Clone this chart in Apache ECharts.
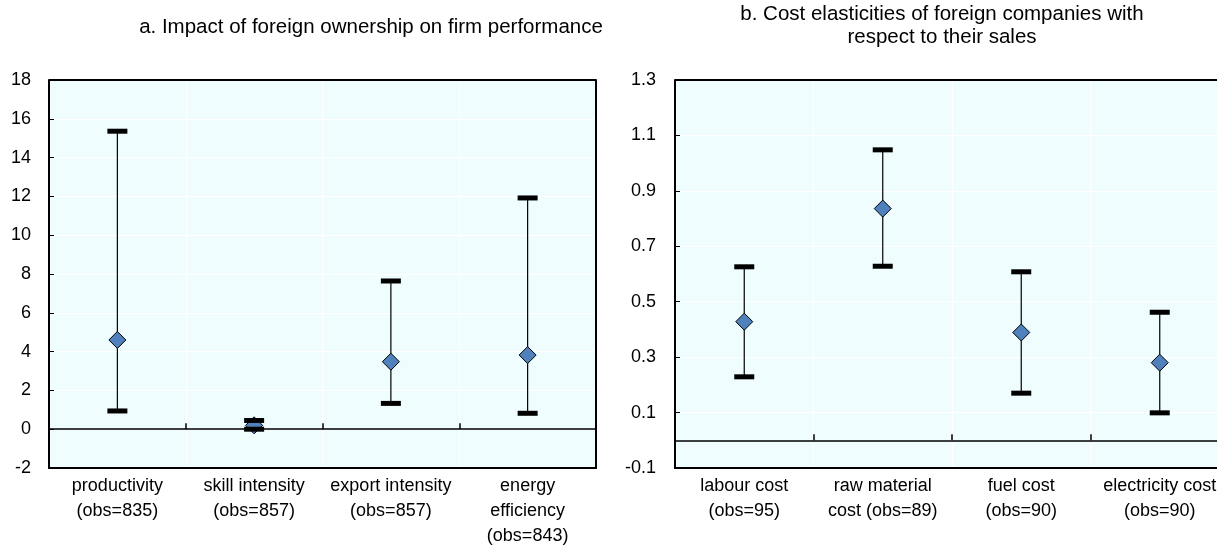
<!DOCTYPE html>
<html>
<head>
<meta charset="utf-8">
<script src="https://cdn.jsdelivr.net/npm/echarts@6/dist/echarts.min.js"></script>
<style>
  html, body { margin: 0; padding: 0; background: #fff; }
  #chart { width: 1217px; height: 547px; }
</style>
</head>
<body>
<div id="chart"></div>
<script>
// Panel a: impact of foreign ownership on firm performance
const perfCategories = ['productivity\n(obs=835)', 'skill intensity\n(obs=857)', 'export intensity\n(obs=857)', 'energy\nefficiency\n(obs=843)'];
const perfLow = [0.94, 0.0, 1.33, 0.82];
const perfEstimate = [4.6, 0.2, 3.48, 3.82];
const perfHigh = [15.36, 0.45, 7.64, 11.92];

// Panel b: cost elasticities of foreign companies with respect to their sales
const costCategories = ['labour cost\n(obs=95)', 'raw material\ncost (obs=89)', 'fuel cost\n(obs=90)', 'electricity cost\n(obs=90)'];
const costLow = [0.229, 0.628, 0.17, 0.099];
const costEstimate = [0.428, 0.836, 0.389, 0.28];
const costHigh = [0.626, 1.048, 0.608, 0.462];
const costTicks = [-0.1, 0.1, 0.3, 0.5, 0.7, 0.9, 1.1, 1.3];

const FONT = "'Liberation Sans', Arial, sans-serif";
const BG = '#F0FDFF';
const MARKER = '#4F81BD';

// whisker between the low and high bound
function whisker(params, api) {
  const x = api.value(0);
  const lo = api.coord([x, api.value(1)]);
  const hi = api.coord([x, api.value(2)]);
  return { type: 'line', shape: { x1: lo[0], y1: lo[1], x2: hi[0], y2: hi[1] }, style: { stroke: '#000', lineWidth: 1.2 } };
}

// thick caps at both bounds, drawn over the estimate marker
function caps(params, api) {
  const x = api.value(0);
  const lo = api.coord([x, api.value(1)]);
  const hi = api.coord([x, api.value(2)]);
  const w = 20, h = 5;
  return {
    type: 'group',
    children: [
      { type: 'rect', shape: { x: hi[0] - w / 2, y: hi[1] - h / 2, width: w, height: h }, style: { fill: '#000' } },
      { type: 'rect', shape: { x: lo[0] - w / 2, y: lo[1] - h / 2, width: w, height: h }, style: { fill: '#000' } }
    ]
  };
}

function inner(index) { return index >= 1 && index <= 3; }

function labelAxis(gridIndex, data) {
  return {
    type: 'category', gridIndex, data, position: 'bottom',
    axisLine: { show: true, onZero: false, lineStyle: { color: '#000', width: 2 } },
    axisTick: { show: false },
    axisLabel: { color: '#000', fontFamily: FONT, fontSize: 18, lineHeight: 25, margin: 6, interval: 0 },
    splitLine: { show: true, interval: inner, lineStyle: { color: '#fff', width: 1 } }
  };
}

function zeroAxis(gridIndex, data) {
  return {
    type: 'category', gridIndex, data, position: 'top',
    axisLine: { show: true, onZero: true, lineStyle: { color: '#000', width: 1.5 } },
    axisTick: { show: true, inside: false, length: 6, interval: inner, lineStyle: { color: '#000', width: 1.5 } },
    axisLabel: { show: false },
    splitLine: { show: false }
  };
}

const yLabel = { color: '#000', fontFamily: FONT, fontSize: 18, margin: 18 };
const ySplit = { show: true, showMinLine: false, showMaxLine: false, lineStyle: { color: '#fff', width: 1 } };
const borderLine = { show: true, onZero: false, lineStyle: { color: '#000', width: 2 } };

function series(xi, yi, low, est, high, topValue) {
  const bounds = low.map((v, i) => [i, low[i], high[i]]);
  return [
    { type: 'custom', xAxisIndex: xi, yAxisIndex: yi, renderItem: whisker, z: 3, data: bounds,
      markLine: { silent: true, symbol: 'none', label: { show: false },
        lineStyle: { color: '#000', width: 2, type: 'solid' }, data: [{ yAxis: topValue }] } },
    { type: 'scatter', xAxisIndex: xi, yAxisIndex: yi, symbol: 'diamond', symbolSize: [17, 17], z: 4,
      itemStyle: { color: MARKER, borderColor: '#000', borderWidth: 1, opacity: 1 },
      data: est.map((v, i) => [i, v]) },
    { type: 'custom', xAxisIndex: xi, yAxisIndex: yi, renderItem: caps, z: 5, data: bounds }
  ];
}

const chart = echarts.init(document.getElementById('chart'));
chart.setOption({
  animation: false,
  title: [
    { text: 'a. Impact of foreign ownership on firm performance', left: 371, top: 17, textAlign: 'center', padding: 0,
      textStyle: { fontFamily: FONT, fontSize: 20.5, fontWeight: 'normal', color: '#000' } },
    { text: 'b. Cost elasticities of foreign companies with\nrespect to their sales', left: 942, top: 3, textAlign: 'center', padding: 0,
      textStyle: { fontFamily: FONT, fontSize: 20.5, fontWeight: 'normal', color: '#000', lineHeight: 23 } }
  ],
  grid: [
    { left: 49, top: 80, width: 547, height: 388, show: true, backgroundColor: BG, borderWidth: 0, outerBoundsMode: 'none' },
    { left: 675, top: 80, width: 554, height: 388, show: true, backgroundColor: BG, borderWidth: 0, outerBoundsMode: 'none' }
  ],
  xAxis: [
    labelAxis(0, perfCategories),
    zeroAxis(0, perfCategories),
    labelAxis(1, costCategories),
    zeroAxis(1, costCategories)
  ],
  yAxis: [
    { type: 'value', gridIndex: 0, min: -2, max: 18, interval: 2, position: 'left',
      axisLine: borderLine, axisTick: { show: true, inside: true, length: 5, lineStyle: { color: '#000' } },
      axisLabel: yLabel, splitLine: ySplit },
    { type: 'value', gridIndex: 1, min: -0.1, max: 1.3, position: 'left',
      axisLine: borderLine,
      axisTick: { show: true, inside: true, length: 5, customValues: costTicks, lineStyle: { color: '#000' } },
      axisLabel: Object.assign({ customValues: costTicks }, yLabel, { margin: 19 }),
      splitLine: ySplit },
    // right-hand frame of panel a
    { type: 'value', gridIndex: 0, min: -2, max: 18, interval: 2, position: 'right',
      axisLine: borderLine, axisTick: { show: false }, axisLabel: { show: false }, splitLine: { show: false } }
  ],
  series: [].concat(
    series(0, 0, perfLow, perfEstimate, perfHigh, 18),
    series(2, 1, costLow, costEstimate, costHigh, 1.3)
  )
});
</script>
</body>
</html>
